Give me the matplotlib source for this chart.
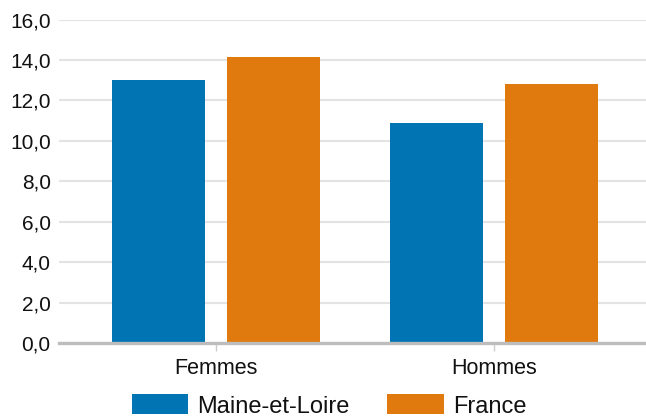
import numpy as np
import matplotlib
matplotlib.use('Agg')
import matplotlib.pyplot as plt

categories = ['Femmes', 'Hommes']
series_names = ['Maine-et-Loire', 'France']
maine_et_loire = [13.0, 10.9]
france = [14.15, 12.8]
y_ticks = [0, 2, 4, 6, 8, 10, 12, 14, 16]
colors = ['#0174b3', '#e07a0e']

plt.rcParams['font.family'] = ['Liberation Sans', 'DejaVu Sans']

fig = plt.figure(figsize=(6.46, 4.17), dpi=100)
ax = fig.add_axes([59/646, 1-343/417, 1-59/646, (343-19.5)/417])

x = np.arange(len(categories))
width = 0.335
offset = 0.207
ax.bar(x - offset, maine_et_loire, width, color=colors[0], label=series_names[0], zorder=3)
ax.bar(x + offset, france, width, color=colors[1], label=series_names[1], zorder=3)

ax.set_xlim(-0.565, 1.547)
ax.set_ylim(0, 16)
ax.set_yticks(y_ticks)
ax.set_yticklabels(['{:.1f}'.format(v).replace('.', ',') for v in y_ticks], fontsize=15, color='#111111')
ax.set_xticks(x)
ax.set_xticklabels(categories, fontsize=15.5, color='#111111')

ax.grid(axis='y', color='#e3e3e3', linewidth=1.5, zorder=0)
ax.tick_params(axis='y', length=0, pad=6)
ax.tick_params(axis='x', length=6, width=1, color='#cccccc', pad=5)
for side in ['top', 'right', 'left']:
    ax.spines[side].set_visible(False)
ax.spines['bottom'].set_color('#bdbdbd')
ax.spines['bottom'].set_linewidth(2.4)
ax.spines['bottom'].set_zorder(4)

fig.legend(loc='center', bbox_to_anchor=(329/646, 1-406/417), ncol=2, frameon=False,
           fontsize=17, handlelength=2.4, handleheight=0.93, handletextpad=0.38,
           columnspacing=1.6, borderpad=0, labelcolor='#111111')

fig.savefig('out.png', dpi=100)
